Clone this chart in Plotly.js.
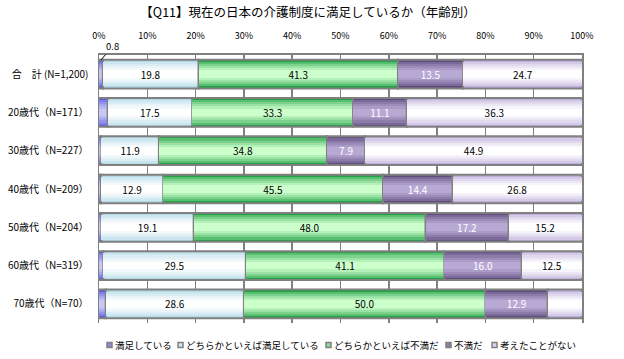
<!DOCTYPE html>
<html>
<head>
<meta charset="utf-8">
<script src="https://cdn.plot.ly/plotly-3.0.1.min.js"></script>
<style>html,body{margin:0;padding:0;background:#fff;}#chart{width:624px;height:359px;}</style>
</head>
<body>
<div id="chart"></div>
<script>
// ---- data ----
const categories = ['合　計 (N=1,200)','20歳代（N=171）','30歳代（N=227）','40歳代（N=209）','50歳代（N=204）','60歳代（N=319）','70歳代（N=70）'];
const seriesNames = ['満足している','どちらかといえば満足している','どちらかといえば不満だ','不満だ','考えたことがない'];
const satisfied            = [0.8, 1.8, 0.5, 0.4, 0.5, 0.9, 1.4];
const somewhatSatisfied    = [19.8, 17.5, 11.9, 12.9, 19.1, 29.5, 28.6];
const somewhatDissatisfied = [41.3, 33.3, 34.8, 45.5, 48.0, 41.1, 50.0];
const dissatisfied         = [13.5, 11.1, 7.9, 14.4, 17.2, 16.0, 12.9];
const neverThought         = [24.7, 36.3, 44.9, 26.8, 15.2, 12.5, 7.1];
const xTickVals = [0,10,20,30,40,50,60,70,80,90,100];
const xTickText = ['0%','10%','20%','30%','40%','50%','60%','70%','80%','90%','100%'];

// ---- styles ----
const series = [satisfied, somewhatSatisfied, somewhatDissatisfied, dissatisfied, neverThought];
const edgeColors   = [[88,88,240],[180,218,232],[34,160,68],[94,76,124],[192,176,220]];
const centerColors = [[200,200,240],[255,255,255],[204,255,204],[184,168,212],[255,255,255]];
const legendColors = ['#8c8cd8','#cfe6ee','#8ed89a','#8e7eaa','#dcd2ec'];
const textColors = ['#000','#000','#000','#fff','#000'];
const widths = [0.75, 0.64, 0.53, 0.42, 0.31, 0.2];
const FONT = '"Noto Sans CJK JP", "Noto Sans", sans-serif';
function mix(a, b, t) { return 'rgb(' + a.map((v, i) => Math.round(v + (b[i] - v) * t)).join(',') + ')'; }

const traces = [];
const bases = series.map((s, i) => s.map((v, j) => series.slice(0, i).reduce((a, arr) => a + arr[j], 0)));
series.forEach((vals, i) => {
  widths.forEach((w, k) => {
    const t = k / (widths.length - 1);
    traces.push({
      type: 'bar', orientation: 'h', y: categories, x: vals, base: bases[i],
      width: w, name: seriesNames[i], showlegend: false,
      marker: {color: mix(edgeColors[i], centerColors[i], Math.pow(t, 0.7)),
               line: {color: k === 0 ? '#808080' : 'rgba(0,0,0,0)', width: k === 0 ? 2 : 0}},
      hoverinfo: 'skip'
    });
  });
});
series.forEach((vals, i) => {
  if (i === 0) return;
  traces.push({
    type: 'bar', orientation: 'h', y: categories, x: vals, base: bases[i],
    width: 0.75, showlegend: false, hoverinfo: 'skip',
    marker: {color: 'rgba(0,0,0,0)'},
    text: vals.map(v => v >= 7.5 ? v.toFixed(1) : ''),
    textposition: 'inside', insidetextanchor: 'middle', constraintext: 'none', textangle: 0,
    insidetextfont: {family: FONT, size: 10, color: textColors[i]}
  });
});

// ---- manual legend (squares + labels) ----
const W = 624, H = 359, ML = 99, MR = 42, MT = 55, MB = 36;
const pw = W - ML - MR, ph = H - MT - MB;
const px2x = p => (p - ML) / pw;
const py2y = p => (H - MB - p) / ph;
const legendSquareX = [107, 178, 326, 446, 492];
const legendY = 345;
const shapes = [], annotations = [];
seriesNames.forEach((name, i) => {
  shapes.push({type: 'rect', xref: 'paper', yref: 'paper',
    x0: px2x(legendSquareX[i]), x1: px2x(legendSquareX[i] + 5),
    y0: py2y(legendY + 2.5), y1: py2y(legendY - 2.5),
    fillcolor: legendColors[i], line: {color: '#808080', width: 1.5}});
  annotations.push({xref: 'paper', yref: 'paper', x: px2x(legendSquareX[i] + 6), y: py2y(legendY),
    xanchor: 'left', yanchor: 'middle', showarrow: false, text: name,
    font: {family: FONT, size: 9.5, color: '#000'}});
});
annotations.push({
  x: satisfied[0] / 2, xref: 'x', y: py2y(60), yref: 'paper', text: satisfied[0].toFixed(1),
  showarrow: true, arrowhead: 0, arrowwidth: 1, arrowcolor: '#000', ax: 12, ay: -14,
  font: {family: FONT, size: 9.5, color: '#000'}
});

const layout = {
  width: W, height: H,
  paper_bgcolor: '#fff', plot_bgcolor: '#fff',
  margin: {l: ML, r: MR, t: MT, b: MB},
  barmode: 'overlay', bargap: 0, showlegend: false,
  font: {family: FONT, size: 10, color: '#000'},
  title: {text: '【Q11】現在の日本の介護制度に満足しているか（年齢別）', x: 308/624, xref: 'container', xanchor: 'center',
          y: 1 - 13/359, yref: 'container', yanchor: 'middle', font: {family: FONT, size: 12.5, color: '#000'}},
  xaxis: {side: 'top', range: [0, 100], tickvals: xTickVals, ticktext: xTickText, showgrid: true,
          gridcolor: '#808080', gridwidth: 1.5, zeroline: false, showline: true, linecolor: '#808080', linewidth: 2,
          ticks: '', ticklabelstandoff: 10, tickfont: {family: FONT, size: 9, color: '#000'}, fixedrange: true},
  yaxis: {type: 'category', autorange: 'reversed', showgrid: false, zeroline: false, showline: true, mirror: true,
          linecolor: '#808080', linewidth: 1.5, ticks: '', ticklabelstandoff: 7, tickfont: {family: FONT, size: 10, color: '#000'}},
  shapes: shapes,
  annotations: annotations
};

Plotly.newPlot('chart', traces, layout, {displayModeBar: false, staticPlot: true});
</script>
</body>
</html>
